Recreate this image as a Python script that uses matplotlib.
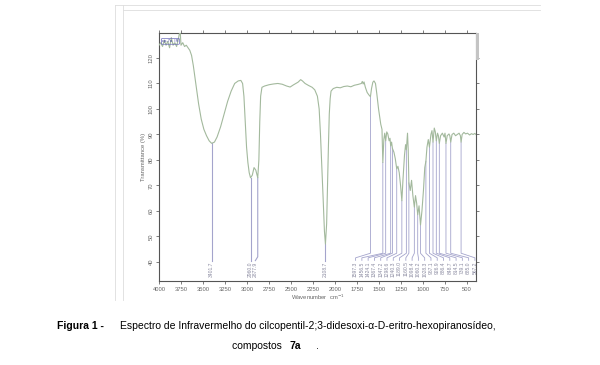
import numpy as np
import matplotlib
matplotlib.use('Agg')
import matplotlib.pyplot as plt
from matplotlib.lines import Line2D
from matplotlib.patches import Rectangle

# IR spectrum (wavenumber cm-1, transmittance %)
wavenumber = [4000, 3980, 3960, 3940, 3920, 3900, 3880, 3860, 3840, 3820, 3800, 3780, 3760, 3750,
              3730, 3710, 3690, 3670, 3650, 3630, 3610, 3590, 3570, 3550, 3520, 3490, 3460, 3430,
              3401.7, 3370, 3340, 3300, 3260, 3220, 3180, 3140, 3100, 3070, 3050, 3035, 3020, 3005,
              2990, 2975, 2960, 2940, 2920, 2900, 2877.9, 2865, 2855, 2845, 2830, 2800, 2750, 2700,
              2650, 2600, 2550, 2510, 2470, 2420, 2390, 2370, 2340, 2300, 2260, 2230, 2200, 2180,
              2165, 2150, 2135, 2120, 2108.7, 2095, 2085, 2075, 2065, 2055, 2045, 2020, 1980, 1940,
              1900, 1860, 1820, 1780, 1740, 1700, 1690, 1680, 1670, 1655, 1635, 1617, 1597.3, 1585,
              1570, 1557, 1540, 1525, 1505, 1480, 1466, 1456.5, 1445, 1435, 1424.1, 1412, 1400, 1385,
              1375, 1367.4, 1357, 1347.2, 1330, 1315, 1298.6, 1285, 1270, 1255, 1240.3, 1228, 1210,
              1198, 1189.0, 1176, 1168, 1160.5, 1145, 1130, 1115, 1098.4, 1085, 1072, 1060.2, 1045,
              1028.3, 1012, 995, 980, 967.1, 955, 940, 926.9, 910, 898, 886.4, 872, 860, 848.7, 835,
              825, 814.5, 800, 780, 760, 750, 739.1, 725, 705, 695, 685.0, 670, 650, 630, 610, 590,
              575, 567.2, 555, 535, 515, 495, 470, 450, 430, 410, 400]
transmittance = [125, 126, 124.5, 127, 125, 126.5, 124, 128, 125, 126, 124.5, 127.5, 131, 125,
                 126, 124.5, 125, 124, 123, 121, 117, 112, 107, 102, 96, 92, 89.5, 87.5,
                 86.5, 87, 89, 93, 98, 103, 107, 110, 111, 111.2, 110, 105, 95, 85,
                 79, 75, 73, 74, 77, 76, 73, 80, 95, 105, 108.5, 109, 109.5, 109.8,
                 110, 109.7, 109, 108.6, 109.5, 110.5, 111.5, 111, 110, 109.2, 108.5, 107.5, 105, 100,
                 90, 78, 65, 52, 47, 55, 70, 85, 98, 104, 107, 108, 108.5, 108.3,
                 108.8, 109, 108.7, 109.3, 109.6, 110, 110.8, 109.8, 110.6, 108.5, 106.5, 105.6, 104.8, 108,
                 110.5, 111, 110, 106, 100, 94, 92, 79, 88, 90.5, 87.5, 91, 90.2, 87.5,
                 88.5, 85.5, 87, 84.5, 83, 80.5, 76.5, 77.5, 75, 70, 64, 72, 82,
                 86, 84, 90.5, 84, 71, 68, 72, 66, 61.5, 66, 63, 58.5, 62,
                 54.5, 60, 68, 77, 79.5, 85, 88, 85, 90, 91.5, 87, 92.5, 91, 87.5, 90.5,
                 89.5, 86.5, 89.5, 90.5, 89, 90.5, 86.5, 89.5, 90.2, 89.5, 87, 90, 90.5, 89.5, 90, 90.5,
                 89.5, 87, 90, 90.8, 90.2, 90.5, 89.8, 90.3, 90, 90.4, 90]

# labelled peaks
main_peaks = [3401.7, 2960.0, 2877.9, 2108.7]
main_labels = ['3401.7', '2960.0', '2877.9', '2108.7']
finger_peaks = [1597.3, 1456.5, 1424.1, 1367.4, 1347.2, 1298.6, 1240.3, 1189.0, 1160.5, 1098.4,
                1060.2, 1028.3, 967.1, 926.9, 886.4, 848.7, 814.5, 739.1, 685.0, 567.2]
finger_labels = ['%.1f' % p for p in finger_peaks]

xticks = [4000, 3750, 3500, 3250, 3000, 2750, 2500, 2250, 2000, 1750, 1500, 1250, 1000, 750, 500]
yticks = [40, 50, 60, 70, 80, 90, 100, 110, 120]

plt.rcParams['font.family'] = ['Liberation Sans', 'DejaVu Sans']

fig = plt.figure(figsize=(6, 3.65), dpi=100)
ax = fig.add_axes([0.265, 0.2301, 0.528, 0.6795])

spec_col = '#a3b99d'
peak_col = '#a4a4cc'
ax.plot(wavenumber, transmittance, color=spec_col, lw=0.8, zorder=3)

wn_r = np.array(wavenumber)[::-1]
t_r = np.array(transmittance)[::-1]

# peak marker lines and labels
lab_col = '#8a8aa0'
main_lab_x = [3401.7, 2960.0, 2905.0, 2108.7]
for p, lab, lx in zip(main_peaks, main_labels, main_lab_x):
    top = np.interp(p, wn_r, t_r)
    ax.plot([p, p, lx], [top, 42.0, 40.5], color=peak_col, lw=0.8, zorder=2)
    ax.text(lx, 40.0, lab, rotation=90, ha='center', va='top', fontsize=3.6, color=lab_col)

finger_lab_x = np.linspace(1766, 410, len(finger_peaks))
for p, lab, lx in zip(finger_peaks, finger_labels, finger_lab_x):
    top = np.interp(p, wn_r, t_r)
    ax.plot([p, p, lx, lx], [top, 43.4, 41.6, 40.6], color=peak_col, lw=0.6, zorder=2)
    ax.text(lx, 40.2, lab, rotation=90, ha='center', va='top', fontsize=3.6, color=lab_col)

ax.set_xlim(4000, 400)
ax.set_ylim(32.5, 129.8)
ax.set_xticks(xticks)
ax.set_xticklabels([str(t) for t in xticks], fontsize=4.2, color='#666666')
ax.set_yticks(yticks)
ax.set_yticklabels([str(t) for t in yticks], fontsize=4.2, color='#666666', rotation=90, va='center')
ax.tick_params(axis='both', direction='out', length=2.5, width=0.6, color='#666666', pad=1.5,
               top=True, right=True)
for s in ax.spines.values():
    s.set_color('#555555')
    s.set_linewidth(0.8)
ax.set_xlabel('Wavenumber  cm$^{-1}$', fontsize=4.2, color='#666666', labelpad=0.5)
ax.set_ylabel('Transmittance (%)', fontsize=4.2, color='#666666', labelpad=2)

# sample tag scribble in the corner
ax.text(3870, 126.5, 'cp-7a  IR', fontsize=3, color='#3a3aa0', ha='center', va='center',
        bbox=dict(boxstyle='round,pad=0.2', fc='none', ec='#6a6ab8', lw=0.5), zorder=4)

# grey strip on the right spine and faint scan frame
fig.patches.append(Rectangle((476 / 600, 1 - 60 / 365), 3 / 600, 27 / 365, transform=fig.transFigure,
                             color='#c4c4c4', lw=0))
for x0 in [115, 123]:
    fig.lines.append(Line2D([x0 / 600, x0 / 600], [1 - 5 / 365, 1 - 300 / 365], transform=fig.transFigure,
                            color='#dddddd', lw=0.6))
for y0, x0 in [(5, 115), (10, 123)]:
    fig.lines.append(Line2D([x0 / 600, 540 / 600], [1 - y0 / 365, 1 - y0 / 365], transform=fig.transFigure,
                            color='#dddddd', lw=0.6))

# caption
fig.text(57 / 600, 1 - 326 / 365, 'Figura 1 -', fontsize=7.5, fontweight='bold', va='center')
fig.text(120 / 600, 1 - 326 / 365,
         'Espectro de Infravermelho do cilcopentil-2;3-didesoxi-\u03b1-D-eritro-hexopiranos\u00eddeo,',
         fontsize=7.5, va='center')
fig.text(285 / 600, 1 - 346 / 365, 'compostos ', fontsize=7.5, ha='right', va='center')
fig.text(289 / 600, 1 - 346 / 365, '7a', fontsize=7.5, fontweight='bold', va='center')
fig.text(316 / 600, 1 - 346 / 365, '.', fontsize=7.5, va='center')

fig.savefig('out.png', dpi=100)
